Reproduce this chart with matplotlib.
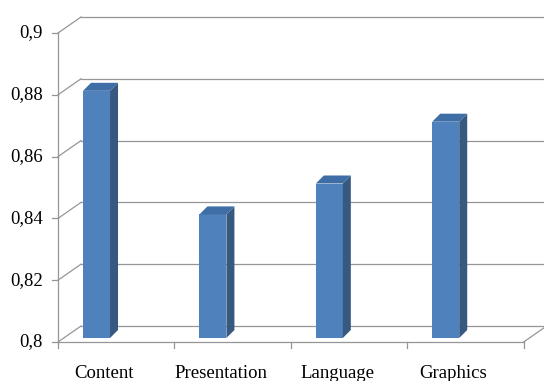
import matplotlib.pyplot as plt

categories = ['Content', 'Presentation', 'Language', 'Graphics']
values = [0.88, 0.84, 0.85, 0.87]
y_ticks = [0.8, 0.82, 0.84, 0.86, 0.88, 0.9]
y_labels = ['0,8', '0,82', '0,84', '0,86', '0,88', '0,9']

W, H = 544, 381
fig = plt.figure(figsize=(W / 100, H / 100), dpi=100)
ax = fig.add_axes([0, 0, 1, 1])
ax.set_axis_off()

# front plane: category edges at 58..523 px, 0.8..0.9 at 342..33 px
px_x = 116.4
px_y = 3090.0
ax.set_xlim(-0.5 - 58 / px_x, -0.5 + (W - 58) / px_x)
ax.set_ylim(0.8 - (H - 342) / px_y, 0.8 + 342 / px_y)


def off(dx, dy):
    # pixel offset -> data offset
    return dx / px_x, dy / px_y


grid_c = '#969696'
lw = 0.9
wdx, wdy = off(23, 16)       # depth of the walls
x0, x1 = -0.5, len(categories) - 0.5

# back wall gridlines + left wall diagonals
for v, lab in zip(y_ticks, y_labels):
    ax.plot([x0 + wdx, x1 + wdx], [v + wdy, v + wdy], color=grid_c, lw=lw, zorder=1)
    ax.plot([x0, x0 + wdx], [v, v + wdy], color=grid_c, lw=lw, zorder=1)
    tdx, _ = off(6, 0)
    ax.plot([x0 - tdx, x0], [v, v], color=grid_c, lw=lw, zorder=1)
    ax.text(x0 - off(15, 0)[0], v, lab, ha='right', va='center',
            fontsize=13.5, family='Liberation Serif', color='black')

# front axis and floor
ax.plot([x0, x0], [0.8, 0.9], color=grid_c, lw=lw, zorder=1)
ax.plot([x0, x1], [0.8, 0.8], color=grid_c, lw=lw, zorder=1)
ax.plot([x1, x1 + wdx], [0.8, 0.8 + wdy], color=grid_c, lw=lw, zorder=1)
_, tdy = off(0, 6)
for i in range(len(categories) + 1):
    ax.plot([x0 + i, x0 + i], [0.8, 0.8 - tdy], color=grid_c, lw=lw, zorder=1)

# bars
bar_l, bar_w = -0.285, off(27, 0)[0]
bdx, bdy = off(8, 8)
lift = off(0, 4)[1]
for i, (cat, v) in enumerate(zip(categories, values)):
    a = i + bar_l
    b = a + bar_w
    y0, y1 = 0.8 + lift, v + lift
    ax.fill([a, b, b, a], [y0, y0, y1, y1], color='#4F81BD', zorder=3, lw=0)
    ax.fill([b, b + bdx, b + bdx, b], [y0, y0 + bdy, y1 + bdy, y1],
            color='#37587F', zorder=3, lw=0)
    ax.fill([a, b, b + bdx, a + bdx], [y1, y1, y1 + bdy, y1 + bdy],
            color='#3F6DA5', zorder=3, lw=0)
    ax.text(i - off(12, 0)[0], 0.8 - off(0, 32)[1], cat, ha='center', va='center',
            fontsize=13.5, family='Liberation Serif', color='black')

fig.savefig('out.png', dpi=100)
